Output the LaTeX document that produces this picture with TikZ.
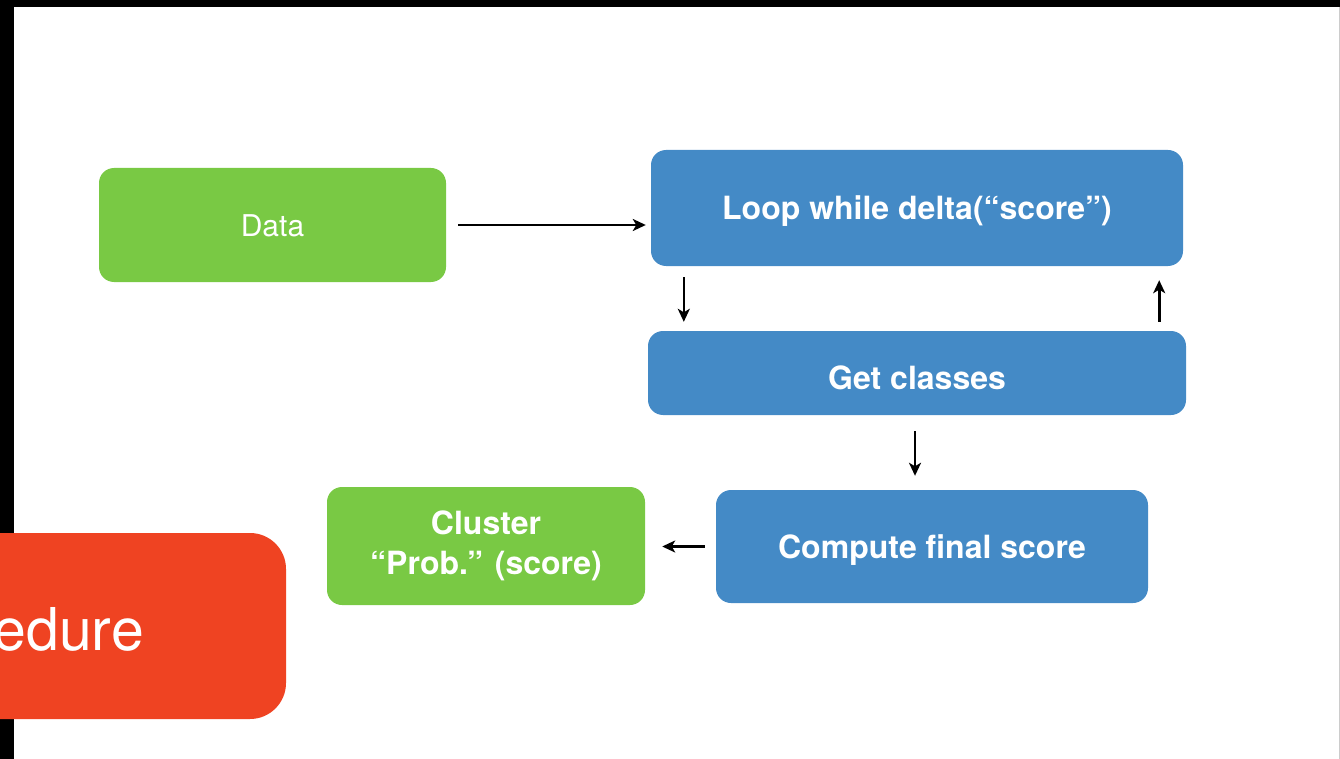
\documentclass[tikz,border=0pt]{standalone}
\usepackage{fontspec}
\setmainfont{TeX Gyre Heros}
\usetikzlibrary{arrows.meta}
\definecolor{datagreen}{HTML}{79C944}
\definecolor{stepblue}{HTML}{448AC6}
\definecolor{procred}{HTML}{EF4322}
\begin{document}
\begin{tikzpicture}[x=1pt, y=-1pt,
        box/.style={rounded corners=15pt, inner sep=0pt, text=white, font=\fontsize{32}{40}\selectfont\bfseries, align=center, text height=23pt, text depth=0pt},
        arr/.style={line width=2.6pt, -{Stealth[length=13pt,width=12pt,inset=3.5pt]}}]
    \useasboundingbox (0,0) rectangle (1340,759);
    % frame of the slide
    \fill[black] (0,0) rectangle (1340,7);
    \fill[black] (0,0) rectangle (14,759);
    \draw[gray!40, line width=1pt] (1339.5,7) -- (1339.5,759);

    % procedure label, cut off at the left
    \fill[procred, rounded corners=36pt] (-60,533) rectangle (286,719);
    \node[anchor=base east, text=white, font=\fontsize{59}{59}\selectfont, inner sep=0pt] (proc) at (144,650) {edure};

    % steps
    \node[box, fill=datagreen, minimum width=347pt, minimum height=114pt, font=\fontsize{30}{40}\selectfont] (data) at (272.5,225) {Data};
    \node[box, fill=stepblue, minimum width=532pt, minimum height=116pt] (loop) at (917,208) {Loop while delta(“score”)};
    \node[box, fill=stepblue, minimum width=538pt, minimum height=84pt, text height=33pt] (classes) at (917,373) {Get classes};
    \node[box, fill=stepblue, minimum width=432pt, minimum height=113pt] (final) at (932,546.5) {Compute final score};
    \node[box, fill=datagreen, minimum width=318pt, minimum height=118pt, text height=, text depth=] (cluster) at (486,546) {Cluster\\“Prob.” (score)};

    % arrows
    \draw[arr, shorten <=12pt, shorten >=5pt] (data.east) -- (data.east -| loop.west);
    \draw[arr] ([xshift=33pt,yshift=-11pt]loop.south west) -- ([xshift=36pt,yshift=9pt]classes.north west);
    \draw[arr] ([xshift=-27pt,yshift=9pt]classes.north east) -- ([xshift=-24pt,yshift=-14pt]loop.south east);
    \draw[arr] ([xshift=-2pt,yshift=-16pt]classes.south) -- ([xshift=-2pt,yshift=14pt]classes.south |- final.north);
    \draw[arr, shorten <=11pt, shorten >=17pt] (final.west) -- (final.west -| cluster.east);
\end{tikzpicture}
\end{document}
